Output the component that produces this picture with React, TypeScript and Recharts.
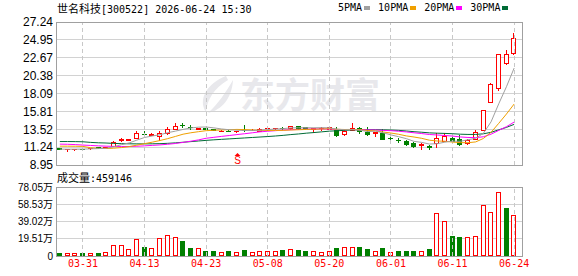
import React from 'react'
import {
  Bar,
  CartesianGrid,
  ComposedChart,
  Line,
  ReferenceDot,
  ReferenceLine,
  XAxis,
  YAxis,
} from 'recharts'

// Daily K-line for 世名科技 with 5/10/20/30-day MAs and a volume panel below.

const dates = [
  '03-26', '03-27', '03-30', '03-31', '04-01', '04-02', '04-03', '04-07', '04-08', '04-09',
  '04-10', '04-13', '04-14', '04-15', '04-16', '04-17', '04-20', '04-21', '04-22', '04-23',
  '04-24', '04-27', '04-28', '04-29', '04-30', '05-06', '05-07', '05-08', '05-11', '05-12',
  '05-13', '05-14', '05-15', '05-18', '05-19', '05-20', '05-21', '05-22', '05-25', '05-26',
  '05-27', '05-28', '05-29', '06-01', '06-02', '06-03', '06-04', '06-05', '06-08', '06-09',
  '06-10', '06-11', '06-12', '06-15', '06-16', '06-17', '06-18', '06-22', '06-23', '06-24',
]

const opens = [
  11.08, 10.98, 10.94, 11.05, 11.08, 11.22, 11.17, 11.37, 12.1, 12.2,
  12.44, 12.92, 12.85, 12.6, 13.09, 13.6, 14.08, 13.86, 13.58, 13.65,
  13.5, 13.3, 13.35, 13.26, 13.42, 13.4, 13.35, 13.62, 13.62, 13.7,
  13.62, 13.97, 13.75, 13.6, 13.68, 13.55, 13.38, 12.88, 13.44, 13.65,
  13.22, 13.1, 13.09, 12.42, 12.2, 12.03, 11.73, 11.45, 11.35, 11.78,
  12.05, 12.42, 12.22, 11.72, 12.3, 13.43, 17.06, 18.76, 22.04, 23.24,
]
const highs = [
  11.12, 11.03, 10.99, 11.07, 11.15, 11.25, 11.24, 12.02, 12.45, 12.28,
  13.3, 13.3, 13.1, 13.3, 13.86, 14.29, 14.29, 14.04, 13.66, 13.68,
  13.55, 13.4, 13.38, 13.33, 14.1, 13.5, 13.62, 13.85, 13.72, 13.75,
  14.0, 14.0, 13.85, 13.7, 13.78, 13.85, 13.75, 13.4, 14.3, 13.8,
  13.85, 13.18, 13.5, 12.66, 12.4, 12.15, 11.9, 11.8, 11.5, 13.1,
  13.0, 12.6, 12.8, 12.3, 13.43, 16.0, 19.4, 23.2, 23.66, 25.8,
]
const lows = [
  10.98, 10.72, 10.92, 10.98, 11.05, 11.15, 11.14, 11.33, 12.02, 12.18,
  12.38, 12.66, 12.75, 12.14, 12.96, 13.52, 13.86, 13.6, 13.56, 13.56,
  13.4, 13.28, 13.26, 13.22, 13.35, 13.38, 13.3, 13.45, 13.55, 13.6,
  13.6, 13.58, 13.55, 13.15, 13.45, 13.5, 12.7, 12.85, 13.42, 13.1,
  12.8, 12.7, 12.25, 12.07, 11.9, 11.52, 11.26, 11.0, 10.96, 11.2,
  12.02, 12.0, 11.5, 11.68, 12.25, 13.4, 16.95, 18.55, 21.83, 23.1,
]
const closes = [
  11.03, 11.0, 10.97, 11.0, 11.12, 11.18, 11.2, 11.93, 12.3, 12.24,
  13.0, 12.87, 12.9, 13.09, 13.52, 14.0, 14.02, 13.8, 13.62, 13.6,
  13.45, 13.35, 13.3, 13.3, 13.38, 13.45, 13.6, 13.66, 13.66, 13.65,
  13.95, 13.62, 13.7, 13.64, 13.72, 13.8, 12.8, 13.35, 13.73, 13.3,
  12.92, 13.14, 12.28, 12.37, 12.15, 11.64, 11.39, 11.68, 11.3, 12.36,
  12.63, 12.05, 11.58, 12.2, 13.22, 15.99, 19.3, 23.15, 23.15, 25.16,
]

const ma5 = [
  10.98, 10.97, 10.97, 10.98, 11.02, 11.05, 11.09, 11.29, 11.55, 11.77,
  12.13, 12.47, 12.66, 12.82, 13.08, 13.28, 13.5, 13.69, 13.79, 13.81,
  13.7, 13.56, 13.46, 13.4, 13.36, 13.36, 13.41, 13.48, 13.55, 13.6,
  13.7, 13.71, 13.72, 13.71, 13.73, 13.7, 13.53, 13.46, 13.48, 13.4,
  13.22, 13.29, 13.07, 12.8, 12.57, 12.32, 11.97, 11.84, 11.63, 11.67,
  11.87, 12.0, 11.98, 12.18, 12.36, 13.0, 14.47, 16.78, 18.96, 21.35,
]
const ma10 = [
  11.36, 11.36, 11.35, 11.33, 11.16, 11.08, 11.06, 11.1, 11.18, 11.3,
  11.49, 11.68, 11.87, 12.08, 12.32, 12.6, 12.89, 13.07, 13.21, 13.34,
  13.39, 13.43, 13.47, 13.5, 13.48, 13.43, 13.38, 13.37, 13.37, 13.38,
  13.43, 13.46, 13.5, 13.53, 13.56, 13.6, 13.52, 13.49, 13.5, 13.46,
  13.36, 13.31, 13.17, 13.04, 12.88, 12.67, 12.53, 12.36, 12.12, 12.02,
  11.99, 11.88, 11.81, 11.8, 11.9, 12.34, 13.13, 14.28, 15.47, 16.75,
]
const ma20 = [
  11.62, 11.6, 11.56, 11.5, 11.45, 11.4, 11.36, 11.33, 11.32, 11.32,
  11.35, 11.4, 11.46, 11.52, 11.6, 11.7, 11.84, 11.99, 12.16, 12.37,
  12.49, 12.61, 12.72, 12.84, 12.95, 13.07, 13.19, 13.27, 13.34, 13.41,
  13.46, 13.5, 13.54, 13.56, 13.57, 13.56, 13.5, 13.48, 13.49, 13.47,
  13.44, 13.43, 13.38, 13.34, 13.27, 13.18, 13.07, 12.97, 12.85, 12.79,
  12.72, 12.65, 12.54, 12.47, 12.45, 12.56, 12.89, 13.38, 13.85, 14.44,
]
const ma30 = [
  11.95, 11.95, 11.94, 11.92, 11.84, 11.79, 11.76, 11.71, 11.68, 11.66,
  11.65, 11.65, 11.66, 11.68, 11.72, 11.78, 11.86, 11.94, 12.02, 12.1,
  12.17, 12.23, 12.29, 12.35, 12.41, 12.47, 12.53, 12.59, 12.66, 12.74,
  12.84, 12.92, 13.02, 13.1, 13.19, 13.28, 13.33, 13.38, 13.43, 13.46,
  13.46, 13.47, 13.45, 13.42, 13.38, 13.3, 13.21, 13.14, 13.06, 13.02,
  12.99, 12.95, 12.89, 12.86, 12.86, 12.94, 13.13, 13.45, 13.76, 14.15,
]

// volume in 万 shares
const volumes = [
  3.0, 3.75, 3.75, 3.0, 3.0, 3.0, 4.1, 12.0, 12.0, 7.5,
  18.8, 10.1, 8.6, 19.9, 24.0, 21.0, 16.5, 8.6, 8.6, 5.6,
  5.6, 4.9, 5.25, 4.9, 6.4, 4.9, 6.0, 6.0, 6.0, 6.4,
  8.25, 6.4, 5.25, 6.0, 4.9, 6.0, 8.6, 9.75, 9.75, 9.75,
  7.5, 6.0, 8.6, 4.9, 5.25, 5.25, 5.25, 6.0, 7.5, 48.8,
  39.8, 22.1, 21.0, 21.0, 22.9, 57.8, 49.9, 72.8, 54.8, 45.91,
]
// 1 = red (up) volume bar, 0 = green
const volumeUp = [
  0, 1, 1, 0, 1, 0, 1, 1, 1, 1,
  1, 0, 1, 1, 1, 1, 0, 0, 1, 0,
  0, 1, 0, 1, 0, 1, 1, 1, 1, 0,
  1, 0, 0, 1, 1, 1, 0, 1, 1, 0,
  0, 1, 0, 1, 0, 0, 0, 1, 0, 1,
  1, 0, 0, 1, 1, 1, 1, 1, 0, 1,
]

const tickDates = ['03-31', '04-13', '04-23', '05-08', '05-20', '06-01', '06-11', '06-24']
const priceTicks = [8.95, 11.24, 13.52, 15.81, 18.09, 20.38, 22.67, 24.95, 27.24]
const volumeTicks = [0, 19.51, 39.02, 58.53, 78.05]
const signalDate = '04-29'
const signalPrice = 9.85

const RED = '#ff0000'
const GREEN = '#008000'
const MA_COLORS = { ma5: '#a0a0a0', ma10: '#f0a000', ma20: '#ff00ff', ma30: '#006b35' }
const GRID = '#d2d2d2'
const FRAME = '#a0a0a0'
const MONO = "'DejaVu Sans Mono', 'Noto Sans CJK SC', monospace"
const CJK = "'Noto Sans CJK SC', sans-serif"
const SANS = "'Liberation Sans', Arial, 'Noto Sans CJK SC', sans-serif"

const rows = dates.map((date, i) => ({
  date,
  open: opens[i],
  high: highs[i],
  low: lows[i],
  close: closes[i],
  range: [lows[i], highs[i]],
  ma5: ma5[i],
  ma10: ma10[i],
  ma20: ma20[i],
  ma30: ma30[i],
  vol: volumes[i],
  volUp: volumeUp[i] === 1,
}))

function Candle(props: any) {
  const { x, y, width, height, payload } = props
  if (x == null || y == null) return null
  const top = Math.min(y, y + height)
  const bottom = Math.max(y, y + height)
  const { open, close, high, low } = payload
  const k = high > low ? (bottom - top) / (high - low) : 0
  const py = (v: number) => top + (high - v) * k
  const up = close >= open
  const color = up ? RED : GREEN
  const left = Math.round(x)
  const cx = left + Math.floor(width / 2) + 0.5
  const bTop = Math.round(py(Math.max(open, close))) + 0.5
  const bBot = Math.round(py(Math.min(open, close))) + 0.5
  const hi = Math.round(py(high))
  const lo = Math.round(py(low)) + 1
  return (
    <g shapeRendering="crispEdges">
      <line x1={cx} x2={cx} y1={hi} y2={lo} stroke={color} strokeWidth={1} />
      {bBot - bTop < 1 ? (
        <line x1={left} x2={left + width} y1={bTop} y2={bTop} stroke={color} strokeWidth={1} />
      ) : (
        <rect
          x={left + 0.5}
          y={bTop}
          width={width - 1}
          height={bBot - bTop}
          fill={up ? '#fff' : GREEN}
          stroke={color}
          strokeWidth={1}
        />
      )}
    </g>
  )
}

function VolumeBar(props: any) {
  const { x, y, width, height, payload } = props
  if (x == null || y == null) return null
  const left = Math.round(x) + 0.5
  const t = Math.round(y) + 0.5
  const b = Math.round(y + height) - 0.5
  const up = payload.volUp
  return (
    <rect
      shapeRendering="crispEdges"
      x={left}
      y={t}
      width={width - 1}
      height={Math.max(b - t, 0)}
      fill={up ? '#fff' : GREEN}
      stroke={up ? RED : GREEN}
      strokeWidth={1}
    />
  )
}

function SignalMark(props: any) {
  const { cx, cy } = props
  if (cx == null || cy == null) return null
  const x = Math.round(cx) + 0.5
  return (
    <g>
      <polygon points={`${x - 3},${cy - 2} ${x + 3},${cy - 2} ${x},${cy - 5}`} fill={RED} />
      <text x={x} y={cy + 6} textAnchor="middle" fontSize={10} fontFamily={SANS} fill={RED}>
        S
      </text>
    </g>
  )
}

function Watermark() {
  return (
    <svg width={578} height={276} style={{ position: 'absolute', left: 0, top: 0 }}>
      <path d="M226 76 C206 84 198 100 206 112 C207 100 214 88 228 80 Z" fill="#e8e8ec" />
      <path d="M233 80 C226 92 218 104 208 113 C222 110 232 98 233 80 Z" fill="#e8e8ec" />
      <text x={240} y={108} fontSize={35} fontWeight={700} fontFamily={CJK} fill="#e8e8ec">
        东方财富
      </text>
    </svg>
  )
}

function Frame({ left, top, width, height }: { left: number; top: number; width: number; height: number }) {
  return (
    <div
      style={{
        position: 'absolute',
        left,
        top,
        width,
        height,
        boxSizing: 'border-box',
        border: `1px solid ${FRAME}`,
        pointerEvents: 'none',
      }}
    />
  )
}

const legendItems = [
  { label: '5PMA', color: MA_COLORS.ma5 },
  { label: '10PMA', color: MA_COLORS.ma10 },
  { label: '20PMA', color: MA_COLORS.ma20 },
  { label: '30PMA', color: MA_COLORS.ma30 },
]

export default function App() {
  return (
    <div
      style={{
        position: 'fixed',
        left: 0,
        top: 0,
        width: 578,
        height: 276,
        background: '#fff',
        overflow: 'hidden',
      }}
    >
      <style>{`.recharts-cartesian-grid line, .recharts-reference-line line { shape-rendering: crispEdges; }`}</style>
      <Watermark />

      <div style={{ position: 'absolute', left: 57, top: 1, fontFamily: MONO, fontSize: 10, lineHeight: '14px', color: '#000', whiteSpace: 'nowrap' }}>
        <span style={{ fontFamily: CJK, fontSize: 11 }}>世名科技</span>[300522] 2026-06-24 15:30
      </div>

      <div style={{ position: 'absolute', left: 338, top: 1, fontFamily: MONO, fontSize: 10, lineHeight: '14px', color: '#000', whiteSpace: 'nowrap', display: 'flex' }}>
        {legendItems.map((it) => (
          <span key={it.label} style={{ display: 'inline-flex', alignItems: 'center', marginRight: 8 }}>
            {it.label}
            <span style={{ display: 'inline-block', width: 6, height: 4, marginLeft: 2, background: it.color }} />
          </span>
        ))}
      </div>

      <div style={{ position: 'absolute', left: 0, top: 0 }}>
        <ComposedChart width={578} height={172} data={rows} margin={{ top: 22, right: 56, bottom: 7, left: 0 }}>
          <CartesianGrid vertical={false} stroke={GRID} />
          <XAxis dataKey="date" hide padding={{ left: 0, right: 4 }} />
          <YAxis
            domain={[8.95, 27.24]}
            ticks={priceTicks}
            interval={0}
            allowDataOverflow
            width={56}
            axisLine={false}
            tickLine={false}
            tickSize={0}
            tickMargin={3}
            tickFormatter={(v: number) => v.toFixed(2)}
            tick={{ fontSize: 12, fill: '#000', fontFamily: SANS }}
          />
          {tickDates.map((d) => (
            <ReferenceLine key={d} x={d} stroke="#c8c8c8" strokeDasharray="4 3" />
          ))}
          <Bar dataKey="range" barSize={5} shape={<Candle />} isAnimationActive={false} />
          <Line type="linear" dataKey="ma30" stroke={MA_COLORS.ma30} strokeWidth={1} dot={false} activeDot={false} isAnimationActive={false} />
          <Line type="linear" dataKey="ma20" stroke={MA_COLORS.ma20} strokeWidth={1} dot={false} activeDot={false} isAnimationActive={false} />
          <Line type="linear" dataKey="ma10" stroke={MA_COLORS.ma10} strokeWidth={1} dot={false} activeDot={false} isAnimationActive={false} />
          <Line type="linear" dataKey="ma5" stroke={MA_COLORS.ma5} strokeWidth={1} dot={false} activeDot={false} isAnimationActive={false} />
          <ReferenceDot x={signalDate} y={signalPrice} r={0} shape={<SignalMark />} />
        </ComposedChart>
      </div>
      <Frame left={56} top={22} width={467} height={144} />

      <div style={{ position: 'absolute', left: 57, top: 170, fontSize: 10, lineHeight: '14px', fontFamily: MONO, color: '#000', whiteSpace: 'nowrap' }}>
        <span style={{ fontFamily: CJK, fontSize: 11 }}>成交量</span>:459146
      </div>

      <div style={{ position: 'absolute', left: 0, top: 172 }}>
        <ComposedChart width={578} height={104} data={rows} margin={{ top: 15, right: 56, bottom: 0, left: 0 }}>
          <CartesianGrid vertical={false} stroke={GRID} />
          <XAxis
            dataKey="date"
            ticks={tickDates}
            interval={0}
            height={20}
            padding={{ left: 0, right: 4 }}
            axisLine={false}
            tickLine={false}
            tickSize={4}
            tickMargin={0}
            tick={{ fontSize: 10, fill: RED, fontFamily: MONO }}
          />
          <YAxis
            domain={[0, 78.05]}
            ticks={volumeTicks}
            interval={0}
            allowDataOverflow
            width={56}
            axisLine={false}
            tickLine={false}
            tickSize={0}
            tickMargin={3}
            tickFormatter={(v: number) => (v === 0 ? '0' : `${v.toFixed(2)}万`)}
            tick={{ fontSize: 10, fill: '#000', fontFamily: SANS }}
          />
          {tickDates.map((d) => (
            <ReferenceLine key={d} x={d} stroke="#c8c8c8" strokeDasharray="4 3" />
          ))}
          <Bar dataKey="vol" barSize={5} shape={<VolumeBar />} isAnimationActive={false} />
        </ComposedChart>
      </div>
      <Frame left={56} top={187} width={467} height={70} />
    </div>
  )
}
